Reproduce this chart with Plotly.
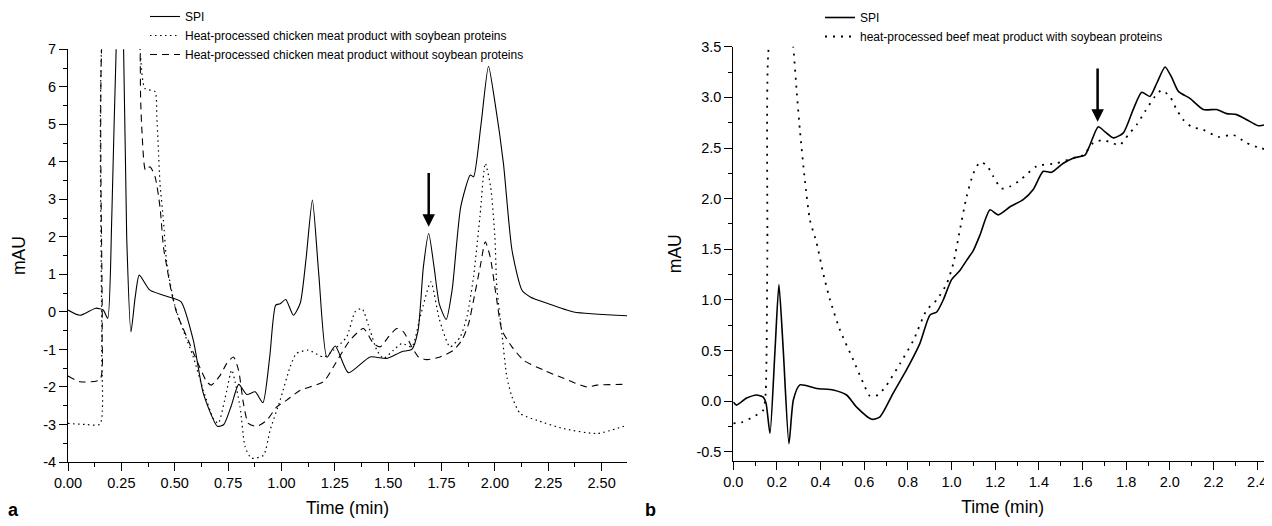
import plotly.graph_objects as go

# ---------------- Panel a (chicken) ----------------
a_spi_t = [0.0, 0.056, 0.13, 0.165, 0.186, 0.205, 0.228, 0.245, 0.259, 0.275, 0.295, 0.315, 0.334, 0.384, 0.5, 0.53,
           0.587, 0.634, 0.70, 0.73, 0.765, 0.80, 0.838, 0.877, 0.913, 0.945, 0.973, 0.994, 1.02, 1.056, 1.088,
           1.115, 1.145, 1.175, 1.213, 1.252, 1.314, 1.415, 1.494, 1.564, 1.611, 1.64, 1.665, 1.69, 1.715, 1.74,
           1.772, 1.80, 1.84, 1.885, 1.90, 1.935, 1.97, 2.0, 2.04, 2.08, 2.127, 2.166, 2.244, 2.369, 2.619]
a_spi_v = [0.05, -0.09, 0.1, 0.05, -0.17, 2.5, 7.5, 9.0, 7.5, 2.0, -0.53, 0.4, 0.98, 0.58, 0.35, 0.27,
           -0.75, -2.17, -3.05, -3.0, -2.5, -1.93, -2.2, -2.13, -2.42, -1.2, 0.18, 0.22, 0.33, -0.09, 0.23,
           1.4, 2.98, 1.0, -1.21, -0.91, -1.62, -1.2, -1.24, -1.06, -1.0, -0.5, 1.2, 2.09, 1.2, 0.2,
           -0.2, 0.6, 2.8, 3.65, 3.6, 5.0, 6.55, 5.6, 3.96, 1.65, 0.58, 0.4, 0.23, 0.0, -0.1]

a_with_t = [0.0, 0.08, 0.15, 0.158, 0.17, 0.25, 0.33, 0.338, 0.36, 0.408, 0.416, 0.423, 0.431, 0.447, 0.463, 0.50,
            0.54, 0.587, 0.634, 0.681, 0.704, 0.744, 0.767, 0.806, 0.83, 0.86, 0.916, 0.947, 0.994, 1.041, 1.07,
            1.126, 1.197, 1.244, 1.306, 1.345, 1.377, 1.415, 1.447, 1.478, 1.525, 1.564, 1.611, 1.65, 1.70,
            1.74, 1.79, 1.838, 1.869, 1.90, 1.93, 1.955, 1.98, 2.0, 2.009, 2.033, 2.056, 2.08, 2.119, 2.197,
            2.322, 2.478, 2.619]
a_with_v = [-2.97, -3.0, -2.99, -1.0, 8.0, 9.0, 8.0, 6.98, 5.96, 5.87, 5.2, 4.4, 3.43, 2.45, 1.29, 0.18,
            -0.49, -1.2, -2.09, -2.84, -2.97, -2.09, -1.55, -2.53, -3.6, -3.9, -3.82, -3.15, -2.35, -1.46, -1.11,
            -1.02, -1.2, -1.02, -0.66, 0.0, 0.09, -0.49, -1.02, -1.24, -1.02, -0.84, -0.93, -0.13, 0.8,
            -0.2, -0.93, -0.66, -0.13, 0.94, 2.54, 3.96, 3.34, 2.0, 0.67, -0.57, -1.73, -2.26, -2.71, -2.89,
            -3.11, -3.24, -3.02]

a_without_t = [0.0, 0.056, 0.15, 0.16, 0.17, 0.25, 0.33, 0.338, 0.34, 0.347, 0.363, 0.384, 0.408, 0.431, 0.447,
               0.463, 0.486, 0.51, 0.556, 0.603, 0.65, 0.672, 0.713, 0.744, 0.775, 0.799, 0.822, 0.845, 0.885,
               0.931, 0.978, 1.025, 1.088, 1.197, 1.244, 1.29, 1.322, 1.384, 1.431, 1.463, 1.502, 1.541, 1.572,
               1.611, 1.642, 1.681, 1.744, 1.806, 1.846, 1.877, 1.90, 1.931, 1.955, 1.978, 2.009, 2.033, 2.08,
               2.135, 2.228, 2.322, 2.431, 2.478, 2.619]
a_without_v = [-1.71, -1.86, -1.8, -0.5, 8.0, 9.0, 8.0, 6.94, 5.74, 4.76, 3.78, 3.87, 3.6, 2.8, 1.74,
               1.2, 0.49, -0.04, -0.66, -1.29, -1.86, -1.95, -1.69, -1.37, -1.2, -1.55, -2.44, -2.97, -3.05,
               -2.89, -2.53, -2.35, -2.09, -1.86, -1.46, -1.02, -0.75, -0.44, -0.84, -0.93, -0.66, -0.44, -0.53,
               -0.93, -1.2, -1.27, -1.2, -1.02, -0.75, -0.31, 0.31, 1.2, 1.87, 1.47, 0.31, -0.49, -0.93,
               -1.29, -1.55, -1.77, -2.0, -1.95, -1.93]

# ---------------- Panel b (beef) ----------------
b_spi_t = [0.0, 0.015, 0.061, 0.107, 0.137, 0.15, 0.168, 0.191, 0.209, 0.229, 0.255, 0.275, 0.305, 0.382, 0.458,
           0.519, 0.565, 0.634, 0.672, 0.733, 0.794, 0.855, 0.901, 0.932, 0.962, 1.0, 1.038, 1.069, 1.1, 1.13,
           1.176, 1.214, 1.268, 1.328, 1.374, 1.42, 1.458, 1.512, 1.557, 1.611, 1.634, 1.672, 1.703, 1.741,
           1.787, 1.832, 1.871, 1.909, 1.94, 1.978, 2.008, 2.039, 2.092, 2.153, 2.214, 2.26, 2.306, 2.352,
           2.405, 2.443, 2.468]
b_spi_v = [-0.01, -0.04, 0.03, 0.06, 0.04, -0.02, -0.32, 0.5, 1.15, 0.5, -0.42, 0.01, 0.16, 0.125, 0.11,
           0.06, -0.06, -0.18, -0.155, 0.08, 0.31, 0.57, 0.85, 0.88, 1.0, 1.2, 1.29, 1.39, 1.49, 1.64,
           1.89, 1.84, 1.92, 1.99, 2.09, 2.27, 2.26, 2.35, 2.4, 2.43, 2.53, 2.71, 2.66, 2.6,
           2.65, 2.88, 3.05, 3.01, 3.14, 3.3, 3.2, 3.06, 2.99, 2.88, 2.88, 2.84, 2.83, 2.78,
           2.72, 2.73, 2.69]

b_with_t = [0.0, 0.038, 0.092, 0.137, 0.148, 0.156, 0.16, 0.22, 0.275, 0.29, 0.305, 0.328, 0.351, 0.382, 0.412,
            0.443, 0.489, 0.55, 0.596, 0.626, 0.664, 0.703, 0.764, 0.825, 0.886, 0.932, 0.978, 1.008, 1.038,
            1.069, 1.1, 1.13, 1.161, 1.191, 1.229, 1.268, 1.313, 1.39, 1.481, 1.557, 1.603, 1.649, 1.695,
            1.733, 1.771, 1.809, 1.848, 1.886, 1.932, 1.962, 2.0, 2.031, 2.061, 2.1, 2.153, 2.222, 2.29,
            2.352, 2.413, 2.468]
b_with_v = [-0.22, -0.21, -0.155, -0.09, 0.07, 1.49, 3.43, 4.5, 3.49, 3.07, 2.68, 2.18, 1.79, 1.56, 1.26,
            1.0, 0.7, 0.405, 0.175, 0.05, 0.06, 0.16, 0.37, 0.6, 0.9, 1.0, 1.16, 1.36, 1.69,
            2.02, 2.25, 2.36, 2.33, 2.22, 2.1, 2.12, 2.18, 2.32, 2.35, 2.4, 2.43, 2.55, 2.58,
            2.55, 2.53, 2.63, 2.73, 2.86, 3.01, 3.07, 3.01, 2.88, 2.78, 2.71, 2.68, 2.61, 2.63,
            2.55, 2.5, 2.48]

# ---------------- labels ----------------
a_legend = ["SPI", "Heat-processed chicken meat product with soybean proteins",
            "Heat-processed chicken meat product without soybean proteins"]
b_legend = ["SPI", "heat-processed beef meat product with soybean proteins"]

a_xticks = [0, 0.25, 0.5, 0.75, 1.0, 1.25, 1.5, 1.75, 2.0, 2.25, 2.5]
a_xticktext = ["0.00", "0.25", "0.50", "0.75", "1.00", "1.25", "1.50", "1.75", "2.00", "2.25", "2.50"]
a_yticks = [-4, -3, -2, -1, 0, 1, 2, 3, 4, 5, 6, 7]
a_yticktext = ["-4", "-3", "-2", "-1", "0", "1", "2", "3", "4", "5", "6", "7"]
b_xticks = [0.0, 0.2, 0.4, 0.6, 0.8, 1.0, 1.2, 1.4, 1.6, 1.8, 2.0, 2.2, 2.4]
b_xticktext = ["0.0", "0.2", "0.4", "0.6", "0.8", "1.0", "1.2", "1.4", "1.6", "1.8", "2.0", "2.2", "2.4"]
b_yticks = [-0.5, 0.0, 0.5, 1.0, 1.5, 2.0, 2.5, 3.0, 3.5]
b_yticktext = ["-0.5", "0.0", "0.5", "1.0", "1.5", "2.0", "2.5", "3.0", "3.5"]

FONT = "Liberation Sans, Arial, sans-serif"
OFF = 8                      # page body margin
W, H = 1272 - OFF, 526 - OFF


def px(sx):   # screen x -> paper fraction
    return (sx - OFF) / W


def py(sy):   # screen y -> paper fraction
    return 1 - (sy - OFF) / H


fig = go.Figure()
sm = 0.6
fig.add_trace(go.Scatter(x=a_spi_t, y=a_spi_v, mode="lines", name=a_legend[0], legend="legend",
                         line=dict(color="black", width=1.1, shape="spline", smoothing=sm), xaxis="x", yaxis="y"))
fig.add_trace(go.Scatter(x=a_with_t, y=a_with_v, mode="lines", name=a_legend[1], legend="legend",
                         line=dict(color="black", width=1.2, dash="1.5px,3.5px", shape="spline", smoothing=sm), xaxis="x", yaxis="y"))
fig.add_trace(go.Scatter(x=a_without_t, y=a_without_v, mode="lines", name=a_legend[2], legend="legend",
                         line=dict(color="black", width=1.1, dash="7px,5px", shape="spline", smoothing=sm), xaxis="x", yaxis="y"))
fig.add_trace(go.Scatter(x=b_spi_t, y=b_spi_v, mode="lines", name=b_legend[0], legend="legend2",
                         line=dict(color="black", width=1.6, shape="spline", smoothing=sm), xaxis="x2", yaxis="y2"))
fig.add_trace(go.Scatter(x=b_with_t, y=b_with_v, mode="lines", name=b_legend[1], legend="legend2",
                         line=dict(color="black", width=1.8, dash="2px,6px", shape="spline", smoothing=sm), xaxis="x2", yaxis="y2"))

axis_common = dict(showgrid=False, zeroline=False, showline=True, linecolor="black", linewidth=1,
                   ticks="outside", ticklen=8, tickwidth=1, tickcolor="black", tickmode="array",
                   automargin=False,
                   tickfont=dict(family=FONT, size=14.5, color="black"))

fig.update_layout(
    width=W, height=H, paper_bgcolor="white", plot_bgcolor="white",
    margin=dict(l=0, r=0, t=0, b=0, autoexpand=False),
    font=dict(family=FONT, color="black"),
    xaxis=dict(axis_common, domain=[px(68), px(627)], range=[0, 2.619], anchor="y",
               tickvals=a_xticks, ticktext=a_xticktext,
               minor=dict(ticks="outside", ticklen=4, dtick=0.125, tick0=0, tickcolor="black"),
               title=dict(text="Time (min)", font=dict(size=17.5), standoff=11)),
    yaxis=dict(axis_common, domain=[py(462), py(49.3)], range=[-4, 7], anchor="x",
               tickvals=a_yticks, ticktext=a_yticktext,
               minor=dict(ticks="outside", ticklen=4, dtick=0.5, tick0=0, tickcolor="black"),
               title=dict(text="mAU", font=dict(size=17.5), standoff=13)),
    xaxis2=dict(axis_common, domain=[px(733.3), 1.0], range=[0, 2.468], anchor="y2",
                tickvals=b_xticks, ticktext=b_xticktext,
                minor=dict(ticks="outside", ticklen=4, dtick=0.1, tick0=0, tickcolor="black"),
                title=dict(text="Time (min)", font=dict(size=17.5), standoff=11)),
    yaxis2=dict(axis_common, domain=[py(460.7), py(46.8)], range=[-0.589, 3.5], anchor="x2",
                tickvals=b_yticks, ticktext=b_yticktext,
                minor=dict(ticks="outside", ticklen=4, dtick=0.25, tick0=0, tickcolor="black"),
                title=dict(text="mAU", font=dict(size=17.5), standoff=10)),
    legend=dict(x=px(145), y=py(2), xanchor="left", yanchor="top", bgcolor="rgba(0,0,0,0)",
                font=dict(family=FONT, size=12, color="black"), itemwidth=30, tracegroupgap=0),
    legend2=dict(x=px(820), y=py(3), xanchor="left", yanchor="top", bgcolor="rgba(0,0,0,0)",
                 font=dict(family=FONT, size=12, color="black"), itemwidth=30, tracegroupgap=0),
    showlegend=True,
)

# arrows marking the soybean marker peak
fig.add_annotation(x=1.69, y=2.27, ax=1.69, ay=3.74, xref="x", yref="y", axref="x", ayref="y",
                   showarrow=True, arrowhead=2, arrowsize=1, arrowwidth=2.5, arrowcolor="black", text="")
fig.add_annotation(x=1.669, y=2.76, ax=1.669, ay=3.30, xref="x2", yref="y2", axref="x2", ayref="y2",
                   showarrow=True, arrowhead=2, arrowsize=1, arrowwidth=2.5, arrowcolor="black", text="")

# panel letters
fig.add_annotation(x=px(13), y=py(510), xref="paper", yref="paper", text="<b>a</b>", showarrow=False,
                   xanchor="center", yanchor="middle", font=dict(family=FONT, size=18, color="black"))
fig.add_annotation(x=px(650), y=py(510), xref="paper", yref="paper", text="<b>b</b>", showarrow=False,
                   xanchor="center", yanchor="middle", font=dict(family=FONT, size=18, color="black"))

fig.write_html("out.html")
